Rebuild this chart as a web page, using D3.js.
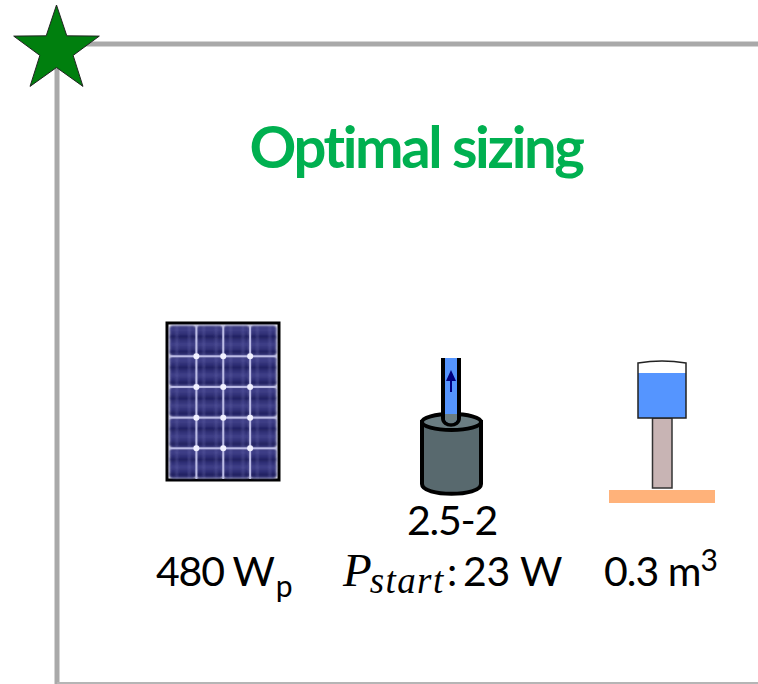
<!DOCTYPE html>
<html>
<head>
<meta charset="UTF-8">
<title>Optimal sizing</title>
<script src="https://cdn.jsdelivr.net/npm/d3@7"></script>
<style>
  html, body { margin: 0; padding: 0; background: #fff; }
  svg { display: block; }
  text { font-family: Lato, "Open Sans", sans-serif; fill: #000; }
</style>
</head>
<body>
<div id="chart"></div>
<script>
var titleText = 'Optimal sizing';
var panelColumns = [0, 1, 2, 3];
var panelRows = [0, 1, 2, 3, 4];
var cellBands = [0, 1, 2, 3];
var pvLabel = ['480 W', 'p'];
var pumpModel = '2.5-2';
var pumpLabel = ['P', 'start', ':', '23 W'];
var tankLabel = ['0.3 m', '3'];

var width = 758, height = 684;
var svg = d3.select('#chart').append('svg')
    .attr('width', width)
    .attr('height', height);
var defs = svg.append('defs');
defs.append('filter').attr('id', 'soft')
    .append('feGaussianBlur').attr('stdDeviation', 0.9);
defs.append('filter').attr('id', 'softer')
    .append('feGaussianBlur').attr('stdDeviation', 0.5);

// frame
svg.append('path')
    .attr('d', 'M57,684V44H758')
    .attr('fill', 'none')
    .attr('stroke', '#a9a9a9')
    .attr('stroke-width', 5);
svg.append('line')
    .attr('x1', 57).attr('x2', 758)
    .attr('y1', 683).attr('y2', 683)
    .attr('stroke', '#b5b5b5')
    .attr('stroke-width', 2);

// star
var star = d3.lineRadial()
    .angle(function (d, i) { return i * Math.PI / 5; })
    .radius(function (d) { return d; })
    .curve(d3.curveLinearClosed);
svg.append('path')
    .attr('transform', 'translate(56.5,50)')
    .attr('d', star(d3.range(10).map(function (i) { return i % 2 ? 17.5 : 45; })))
    .attr('fill', '#007f0e')
    .attr('stroke', '#222')
    .attr('stroke-width', 1);

// title
svg.append('text')
    .attr('x', 416).attr('y', 168)
    .attr('text-anchor', 'middle')
    .attr('font-size', 58)
    .attr('font-weight', 700)
    .attr('letter-spacing', -2.4)
    .style('fill', '#00b050')
    .text(titleText);

// solar panel
var x = d3.scaleBand().domain(panelColumns).range([169, 277]).padding(0.02);
var y = d3.scaleBand().domain(panelRows).range([325, 479]).padding(0.02);
var panel = svg.append('g');
panel.append('rect')
    .attr('x', 167).attr('y', 323)
    .attr('width', 112).attr('height', 157)
    .attr('fill', '#f4f4fa')
    .attr('stroke', '#000')
    .attr('stroke-width', 3);

var cells = panel.append('g').attr('filter', 'url(#soft)');
panelRows.forEach(function (r) {
    panelColumns.forEach(function (c) {
        cells.append('rect')
            .attr('x', x(c)).attr('y', y(r))
            .attr('width', x.bandwidth()).attr('height', y.bandwidth())
            .attr('rx', 3)
            .attr('fill', '#333379');
        cellBands.forEach(function (b) {
            cells.append('rect')
                .attr('x', x(c))
                .attr('y', y(r) + (b + 0.25) * y.bandwidth() / cellBands.length)
                .attr('width', x.bandwidth())
                .attr('height', y.bandwidth() / cellBands.length / 2)
                .attr('fill', b % 2 ? '#20205c' : '#45458c')
                .attr('opacity', 0.8);
        });
        [0.25, 0.72].forEach(function (t) {
            cells.append('rect')
                .attr('x', x(c) + t * x.bandwidth())
                .attr('y', y(r))
                .attr('width', 1.5)
                .attr('height', y.bandwidth())
                .attr('fill', '#6a6ab4')
                .attr('opacity', 0.5);
        });
    });
});

var grid = panel.append('g').attr('filter', 'url(#softer)');
panelColumns.slice(1).forEach(function (c) {
    grid.append('rect')
        .attr('x', x(c) - 1).attr('y', 325)
        .attr('width', 2).attr('height', 154)
        .attr('fill', '#bcbce6');
});
panelRows.slice(1).forEach(function (r) {
    grid.append('rect')
        .attr('x', 169).attr('y', y(r) - 1)
        .attr('width', 108).attr('height', 2)
        .attr('fill', '#bcbce6');
    panelColumns.slice(1).forEach(function (c) {
        grid.append('circle')
            .attr('cx', x(c)).attr('cy', y(r))
            .attr('r', 3)
            .attr('fill', '#f0f0ff');
    });
});

// pump
var pump = svg.append('g').attr('stroke', '#000').attr('stroke-width', 4);
pump.append('path')
    .attr('d', 'M422,422V484C422,497 481,497 481,484V422Z')
    .attr('fill', '#58696e');
pump.append('ellipse')
    .attr('cx', 451.5).attr('cy', 422)
    .attr('rx', 29.5).attr('ry', 8)
    .attr('fill', '#6b7d82');
pump.append('path')
    .attr('d', 'M443,358V418C443,427 459,427 459,418V358')
    .attr('fill', '#5595ff')
    .attr('stroke', 'none');
svg.append('path')
    .attr('d', 'M445,414V418C445,425 457,425 457,418V414Z')
    .attr('fill', '#6b7d82');
pump.append('path')
    .attr('d', 'M443,358V418C443,427 459,427 459,418V358')
    .attr('fill', 'none');
svg.append('path')
    .attr('d', 'M451,370L456,381H452V392H450V381H446Z')
    .attr('fill', '#00007f');

// tank
svg.append('rect')
    .attr('x', 609).attr('y', 490)
    .attr('width', 106).attr('height', 13)
    .attr('fill', '#ffb27a');
svg.append('rect')
    .attr('x', 652.5).attr('y', 418)
    .attr('width', 19.5).attr('height', 70)
    .attr('fill', '#c8b4b4')
    .attr('stroke', '#333')
    .attr('stroke-width', 1.5);
svg.append('rect')
    .attr('x', 638).attr('y', 373)
    .attr('width', 48).attr('height', 45)
    .attr('fill', '#5595ff');
svg.append('path')
    .attr('d', 'M638,373V363Q662,359 686,363V373')
    .attr('fill', '#fff');
svg.append('path')
    .attr('d', 'M638,363V418H686V363Q662,359 638,363Z')
    .attr('fill', 'none')
    .attr('stroke', '#222')
    .attr('stroke-width', 1.5);

// labels
var labelSize = 41;
var pvText = svg.append('text')
    .attr('x', 156).attr('y', 586)
    .attr('font-size', labelSize)
    .attr('letter-spacing', -1.2);
pvText.append('tspan').text(pvLabel[0]);
pvText.append('tspan').attr('dy', 11).attr('dx', 2).attr('font-size', 30).text(pvLabel[1]);

svg.append('text')
    .attr('x', 452).attr('y', 535)
    .attr('text-anchor', 'middle')
    .attr('font-size', labelSize)
    .attr('letter-spacing', -1.2)
    .text(pumpModel);

var serif = '"Liberation Serif", serif';
var pumpText = svg.append('text')
    .attr('x', 343).attr('y', 586)
    .attr('font-size', labelSize);
pumpText.append('tspan')
    .style('font-family', serif)
    .style('font-style', 'italic')
    .attr('font-size', 47)
    .text(pumpLabel[0]);
pumpText.append('tspan')
    .style('font-family', serif)
    .style('font-style', 'italic')
    .attr('font-size', 37)
    .attr('dy', 7)
    .attr('dx', -2)
    .attr('letter-spacing', 1.4)
    .text(pumpLabel[1]);
svg.append('text')
    .attr('x', 447).attr('y', 586)
    .attr('font-size', labelSize)
    .text(pumpLabel[2]);
svg.append('text')
    .attr('x', 463).attr('y', 586)
    .attr('font-size', labelSize)
    .attr('letter-spacing', -0.2)
    .text(pumpLabel[3]);

var tankText = svg.append('text')
    .attr('x', 604).attr('y', 586)
    .attr('font-size', labelSize)
    .attr('letter-spacing', -1);
tankText.append('tspan').text(tankLabel[0]);
tankText.append('tspan').attr('dy', -15).attr('font-size', 30).text(tankLabel[1]);
</script>
</body>
</html>
